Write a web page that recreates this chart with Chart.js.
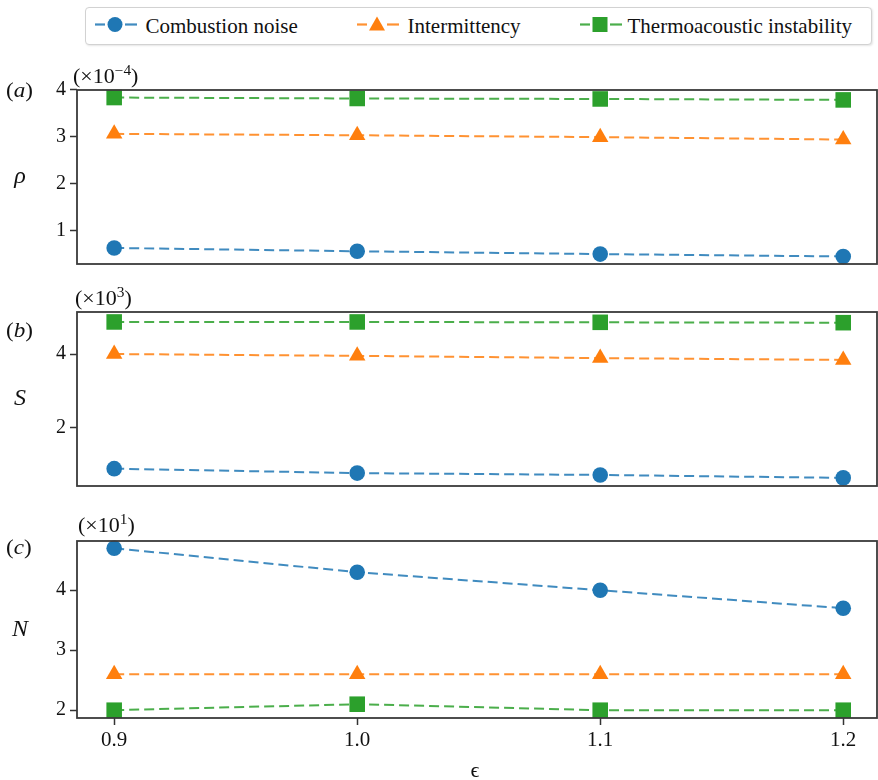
<!DOCTYPE html>
<html><head><meta charset="utf-8">
<script src="https://cdn.jsdelivr.net/npm/chart.js@4.4.0/dist/chart.umd.min.js"></script>
<style>
html,body{margin:0;padding:0;background:#fff;}
body{width:878px;height:780px;position:relative;overflow:hidden;font-family:'Liberation Serif','Times New Roman',serif;}
canvas{position:absolute;left:0;}
#legend{position:absolute;left:85px;top:7px;width:787px;height:38px;border:1.5px solid #d2d2d2;border-radius:4px;box-shadow:1px 1px 2px rgba(0,0,0,0.10);box-sizing:border-box;background:#fff;}
#legend .mk{position:absolute;top:0;}
#legend .tx{position:absolute;font-size:21px;line-height:21px;color:#111;white-space:nowrap;}
</style></head><body>
<div id="legend"></div>
<canvas id="cA" width="878" height="220" style="top:60px"></canvas>
<canvas id="cB" width="878" height="220" style="top:282px"></canvas>
<canvas id="cC" width="878" height="275" style="top:505px"></canvas>
<script>
// ---- data ----
const epsilon = [0.9, 1.0, 1.1, 1.2];
const seriesNames = ['Combustion noise', 'Intermittency', 'Thermoacoustic instability'];
const rhoNoise  = [0.64, 0.57, 0.51, 0.46];
const rhoInter  = [3.06, 3.03, 2.99, 2.94];
const rhoThermo = [3.83, 3.81, 3.80, 3.78];
const sNoise  = [0.89, 0.77, 0.72, 0.64];
const sInter  = [4.00, 3.95, 3.89, 3.84];
const sThermo = [4.87, 4.87, 4.86, 4.85];
const nNoise  = [4.7, 4.3, 4.0, 3.7];
const nInter  = [2.6, 2.6, 2.6, 2.6];
const nThermo = [2.0, 2.1, 2.0, 2.0];
const rhoTicks = [1, 2, 3, 4];
const sTicks = [2, 4];
const nTicks = [2, 3, 4];
const epsTicks = [0.9, 1.0, 1.1, 1.2];

// ---- style ----
const colors = ['#1f77b4', '#ff7f0e', '#2ca02c'];
const lineColors = ['rgba(31,119,180,0.85)', 'rgba(255,127,14,0.85)', 'rgba(44,160,44,0.85)'];
const pointStyles = ['circle', 'triangle', 'rect'];
const radii = [7.8, 9.5, 11];
const FONT = "'Liberation Serif','Times New Roman',serif";
Chart.defaults.font.family = FONT;

// ---- legend ----
(function(){
  const lg = document.getElementById('legend');
  const centers = [115, 377, 600];
  const textLeft = [146, 408, 628];
  const ox = 85 + 1.5, oy = 7 + 1.5;
  seriesNames.forEach((name, i) => {
    const cx = centers[i] - ox, cy = 25 - oy;
    let shape = '';
    if (i === 0) shape = `<circle cx="24" cy="${cy}" r="7.5" fill="${colors[0]}"/>`;
    if (i === 1) shape = `<polygon points="24,${cy-8} 32,${cy+6} 16,${cy+6}" fill="${colors[1]}"/>`;
    if (i === 2) shape = `<rect x="16.5" y="${cy-7.5}" width="15" height="15" fill="${colors[2]}"/>`;
    const svg = `<svg class="mk" style="left:${cx-24}px" width="48" height="36">
      <line x1="4" y1="${cy}" x2="14" y2="${cy}" stroke="${lineColors[i]}" stroke-width="2.2"/>
      <line x1="34" y1="${cy}" x2="46" y2="${cy}" stroke="${lineColors[i]}" stroke-width="2.2"/>
      ${shape}</svg>`;
    lg.insertAdjacentHTML('beforeend', svg);
    const t = document.createElement('div');
    t.className = 'tx'; t.textContent = name;
    t.style.left = (textLeft[i] - ox) + 'px';
    t.style.top = (16.4 - oy) + 'px';
    lg.appendChild(t);
  });
})();

// ---- text / frame plugin ----
function drawPieces(ctx, pieces, x, y, sx) {
  let cx = x;
  pieces.forEach(p => {
    ctx.font = (p.italic ? 'italic ' : '') + p.size + 'px ' + FONT;
    const w = ctx.measureText(p.text).width;
    ctx.save();
    ctx.translate(cx, y - (p.dy || 0));
    ctx.scale(sx, 1);
    ctx.fillText(p.text, 0, 0);
    ctx.restore();
    cx += w * sx;
  });
}
const panelPlugin = {
  id: 'panelDeco',
  afterDatasetsDraw(chart, args, o) {
    const ctx = chart.ctx, ca = chart.chartArea, top = o.canvasTop;
    ctx.save();
    ctx.strokeStyle = '#3a3a3a';
    ctx.lineWidth = 1.8;
    ctx.strokeRect(ca.left, ca.top, ca.right - ca.left, ca.bottom - ca.top);
    ctx.fillStyle = '#111';
    ctx.textBaseline = 'middle';
    drawPieces(ctx, [{text:'(', size:22}, {text:o.letter, size:22, italic:true}, {text:')', size:22}], 6, o.letterY - top, 1.05);
    ctx.textAlign = 'center';
    ctx.font = 'italic 24px ' + FONT;
    ctx.fillText(o.ylabel, 20, (ca.top + ca.bottom) / 2);
    ctx.textAlign = 'left';
    ctx.textBaseline = 'alphabetic';
    drawPieces(ctx, [{text:'(×10', size:20}, {text:o.exp, size:14, dy:8}, {text:')', size:20}], o.expX, o.expY - top, 1.1);
    if (o.xlabel) {
      ctx.textAlign = 'center';
      ctx.textBaseline = 'middle';
      ctx.font = '22px ' + FONT;
      ctx.fillText(o.xlabel, (ca.left + ca.right) / 2 - 2, 771 - top);
    }
    ctx.restore();
  }
};

function makeChart(id, cfg) {
  const ds = cfg.series.map((vals, i) => ({
    label: seriesNames[i],
    data: epsilon.map((e, j) => ({x: e, y: vals[j]})),
    borderColor: lineColors[i],
    backgroundColor: colors[i],
    pointBackgroundColor: colors[i],
    pointBorderColor: colors[i],
    pointBorderWidth: 0,
    pointStyle: pointStyles[i],
    pointRadius: radii[i],
    borderWidth: 2,
    borderDash: [10, 5],
    tension: 0,
    fill: false,
    clip: false
  }));
  const tickGrid = {display: true, drawOnChartArea: false, drawTicks: true, tickLength: 7, tickWidth: 1.5, tickColor: '#333', color: '#333'};
  return new Chart(document.getElementById(id), {
    type: 'line',
    data: {datasets: ds},
    options: {
      responsive: false, animation: false, events: [],
      layout: {autoPadding: false, padding: {top: cfg.padTop, bottom: cfg.padBottom, left: 0, right: 1}},
      plugins: {legend: {display: false}, tooltip: {enabled: false}, panelDeco: cfg.deco},
      scales: {
        x: {
          type: 'linear', min: 0.8847, max: 1.2139, display: cfg.showX,
          afterBuildTicks: s => { s.ticks = epsTicks.map(v => ({value: v})); },
          afterFit: s => { s.height = cfg.showX ? 62 : 0; },
          grid: tickGrid,
          border: {display: false},
          ticks: {font: {size: 21}, color: '#111', padding: 3, maxRotation: 0, autoSkip: false, callback: v => Number(v).toFixed(1)}
        },
        y: {
          type: 'linear', min: cfg.min, max: cfg.max,
          afterBuildTicks: s => { s.ticks = cfg.ticks.map(v => ({value: v})); },
          afterFit: s => { s.width = 77; },
          grid: tickGrid,
          border: {display: false},
          ticks: {font: {size: 20}, color: '#111', padding: 4, autoSkip: false, callback: v => String(v)}
        }
      }
    },
    plugins: [panelPlugin]
  });
}

makeChart('cA', {series: [rhoNoise, rhoInter, rhoThermo], min: 0.3, max: 3.99, ticks: rhoTicks,
  padTop: 30, padBottom: 13, showX: false,
  deco: {canvasTop: 60, letter: 'a', letterY: 91, ylabel: 'ρ', exp: '−4', expX: 73, expY: 83}});
makeChart('cB', {series: [sNoise, sInter, sThermo], min: 0.42, max: 5.14, ticks: sTicks,
  padTop: 30, padBottom: 13, showX: false,
  deco: {canvasTop: 282, letter: 'b', letterY: 331, ylabel: 'S', exp: '3', expX: 75, expY: 305}});
makeChart('cC', {series: [nNoise, nInter, nThermo], min: 1.87, max: 4.82, ticks: nTicks,
  padTop: 36, padBottom: 0, showX: true,
  deco: {canvasTop: 505, letter: 'c', letterY: 548, ylabel: 'N', exp: '1', expX: 78, expY: 532, xlabel: 'ϵ'}});
</script>
</body></html>
